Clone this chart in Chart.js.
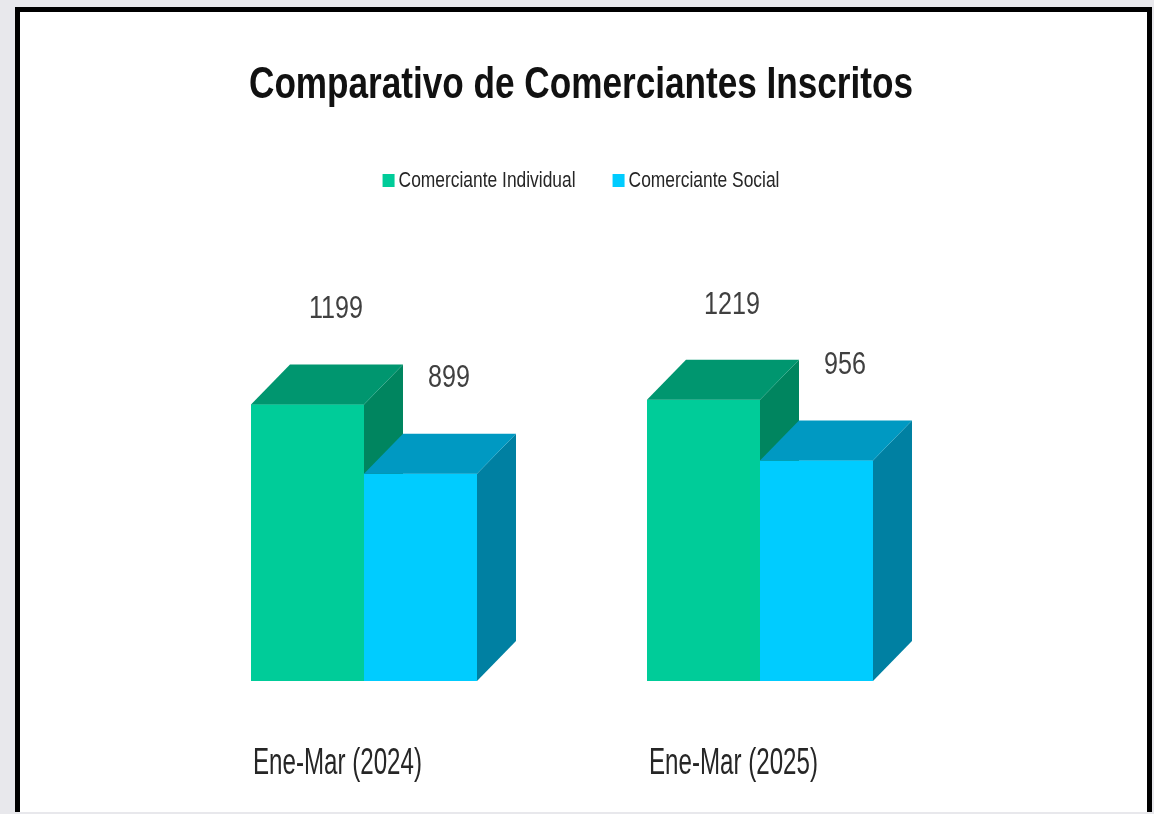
<!DOCTYPE html>
<html>
<head>
<meta charset="utf-8">
<script src="https://cdn.jsdelivr.net/npm/chart.js@4.4.1/dist/chart.umd.min.js"></script>
<style>
  html, body { margin: 0; padding: 0; background: #e8e8ec; width: 1154px; height: 814px; overflow: hidden; }
  #frame {
    position: absolute; left: 15px; top: 7px; width: 1127px; height: 800px;
    background: #fff; border: 5px solid #000; border-bottom: none;
  }
  #chart { position: absolute; left: 0; top: 0; }
</style>
</head>
<body>
<div id="frame"><canvas id="chart" width="1127" height="800"></canvas></div>
<script>
// chart data
const chartTitle = 'Comparativo de Comerciantes Inscritos';
const categories = ['Ene-Mar (2024)', 'Ene-Mar (2025)'];
const seriesNames = ['Comerciante Individual', 'Comerciante Social'];
const individualValues = [1199, 1219];
const socialValues = [899, 956];

// front / top / side colours for each series
const frontColors = ['#00cc99', '#00ccff'];
const topColors = ['#00966f', '#0099c2'];
const sideColors = ['#00855f', '#0080a2'];

const DEPTH_X = 39, DEPTH_Y = -40;
const FONT = '"Liberation Sans Narrow", "Liberation Sans", Arial, sans-serif';

// draws text squeezed horizontally so it looks like the narrow original font
function squeezedText(ctx, text, x, y, size, weight, align, squeeze) {
  ctx.save();
  ctx.font = weight + ' ' + size + 'px ' + FONT;
  const w = ctx.measureText(text).width * squeeze;
  let left = x;
  if (align === 'center') left = x - w / 2;
  else if (align === 'right') left = x - w;
  ctx.translate(left, y);
  ctx.scale(squeeze, 1);
  ctx.textAlign = 'left';
  ctx.fillText(text, 0, 0);
  ctx.restore();
  return w;
}

function fitSqueeze(ctx, text, size, weight, target) {
  ctx.save();
  ctx.font = weight + ' ' + size + 'px ' + FONT;
  const s = target / ctx.measureText(text).width;
  ctx.restore();
  return s;
}

const whiteBg = {
  id: 'whiteBg',
  beforeDraw(chart) {
    const ctx = chart.ctx;
    ctx.save();
    ctx.fillStyle = '#fff';
    ctx.fillRect(0, 0, chart.width, chart.height);
    ctx.restore();
  }
};

// 3d boxes, value labels, category labels, title and legend
const boxes3d = {
  id: 'boxes3d',
  afterDatasetsDraw(chart) {
    const ctx = chart.ctx;
    const sets = chart.data.datasets;
    categories.forEach((cat, i) => {
      sets.forEach((ds, d) => {
        const bar = chart.getDatasetMeta(d).data[i];
        const p = bar.getProps(['x', 'y', 'base', 'width'], true);
        const l = p.x - p.width / 2, r = p.x + p.width / 2;
        ctx.save();
        ctx.fillStyle = frontColors[d];
        ctx.fillRect(l, p.y, p.width, p.base - p.y);
        ctx.fillStyle = sideColors[d];
        ctx.beginPath();
        ctx.moveTo(r, p.y);
        ctx.lineTo(r + DEPTH_X, p.y + DEPTH_Y);
        ctx.lineTo(r + DEPTH_X, p.base + DEPTH_Y);
        ctx.lineTo(r, p.base);
        ctx.closePath();
        ctx.fill();
        ctx.fillStyle = topColors[d];
        ctx.beginPath();
        ctx.moveTo(l, p.y);
        ctx.lineTo(l + DEPTH_X, p.y + DEPTH_Y);
        ctx.lineTo(r + DEPTH_X, p.y + DEPTH_Y);
        ctx.lineTo(r, p.y);
        ctx.closePath();
        ctx.fill();
        ctx.restore();
      });
    });

    // value labels
    const numSqueeze = fitSqueeze(ctx, '1199', 32, 'normal', 54);
    ctx.fillStyle = '#404040';
    ctx.textBaseline = 'middle';
    sets.forEach((ds, d) => {
      chart.getDatasetMeta(d).data.forEach((bar, i) => {
        squeezedText(ctx, String(ds.data[i]), bar.x + DEPTH_X / 2 + 9, bar.y - 95, 32, 'normal', 'center', numSqueeze);
      });
    });

    // category labels, left aligned with the first bar of each group
    ctx.textBaseline = 'alphabetic';
    ctx.fillStyle = '#262626';
    const catSqueeze = fitSqueeze(ctx, categories[0], 36, 'normal', 169);
    const meta0 = chart.getDatasetMeta(0);
    categories.forEach((cat, i) => {
      const bar = meta0.data[i];
      squeezedText(ctx, cat, bar.x - bar.width / 2 + 2, bar.base + 93, 36, 'normal', 'left', catSqueeze);
    });

    // title
    const cx = (chart.chartArea.left + chart.chartArea.right) / 2 + 19;
    ctx.fillStyle = '#111';
    const tSqueeze = fitSqueeze(ctx, chartTitle, 45, 'bold', 664);
    squeezedText(ctx, chartTitle, cx, 86, 45, 'bold', 'center', tSqueeze);

    // legend
    const lSqueeze = fitSqueeze(ctx, seriesNames[0], 22, 'normal', 177);
    ctx.font = 'normal 22px ' + FONT;
    const widths = seriesNames.map(n => ctx.measureText(n).width * lSqueeze);
    const box = 12, gap = 4, itemGap = 37;
    const total = widths.reduce((a, w) => a + box + gap + w, 0) + itemGap * (seriesNames.length - 1);
    let lx = cx - total / 2;
    seriesNames.forEach((name, d) => {
      ctx.fillStyle = frontColors[d];
      ctx.fillRect(lx, 162, box, 13);
      ctx.fillStyle = '#262626';
      squeezedText(ctx, name, lx + box + gap, 175, 22, 'normal', 'left', lSqueeze);
      lx += box + gap + widths[d] + itemGap;
    });
  }
};

new Chart(document.getElementById('chart'), {
  type: 'bar',
  data: {
    labels: categories,
    datasets: [
      { label: seriesNames[0], data: individualValues, backgroundColor: frontColors[0] },
      { label: seriesNames[1], data: socialValues, backgroundColor: frontColors[1] }
    ]
  },
  options: {
    responsive: false,
    animation: false,
    categoryPercentage: 0.5707,
    barPercentage: 1,
    layout: { padding: { left: 146, right: 189, top: 300, bottom: 131 } },
    plugins: { legend: { display: false }, title: { display: false }, tooltip: { enabled: false } },
    scales: {
      x: { display: false },
      y: { display: false, min: 0, max: 1600 }
    }
  },
  plugins: [whiteBg, boxes3d]
});
</script>
</body>
</html>
